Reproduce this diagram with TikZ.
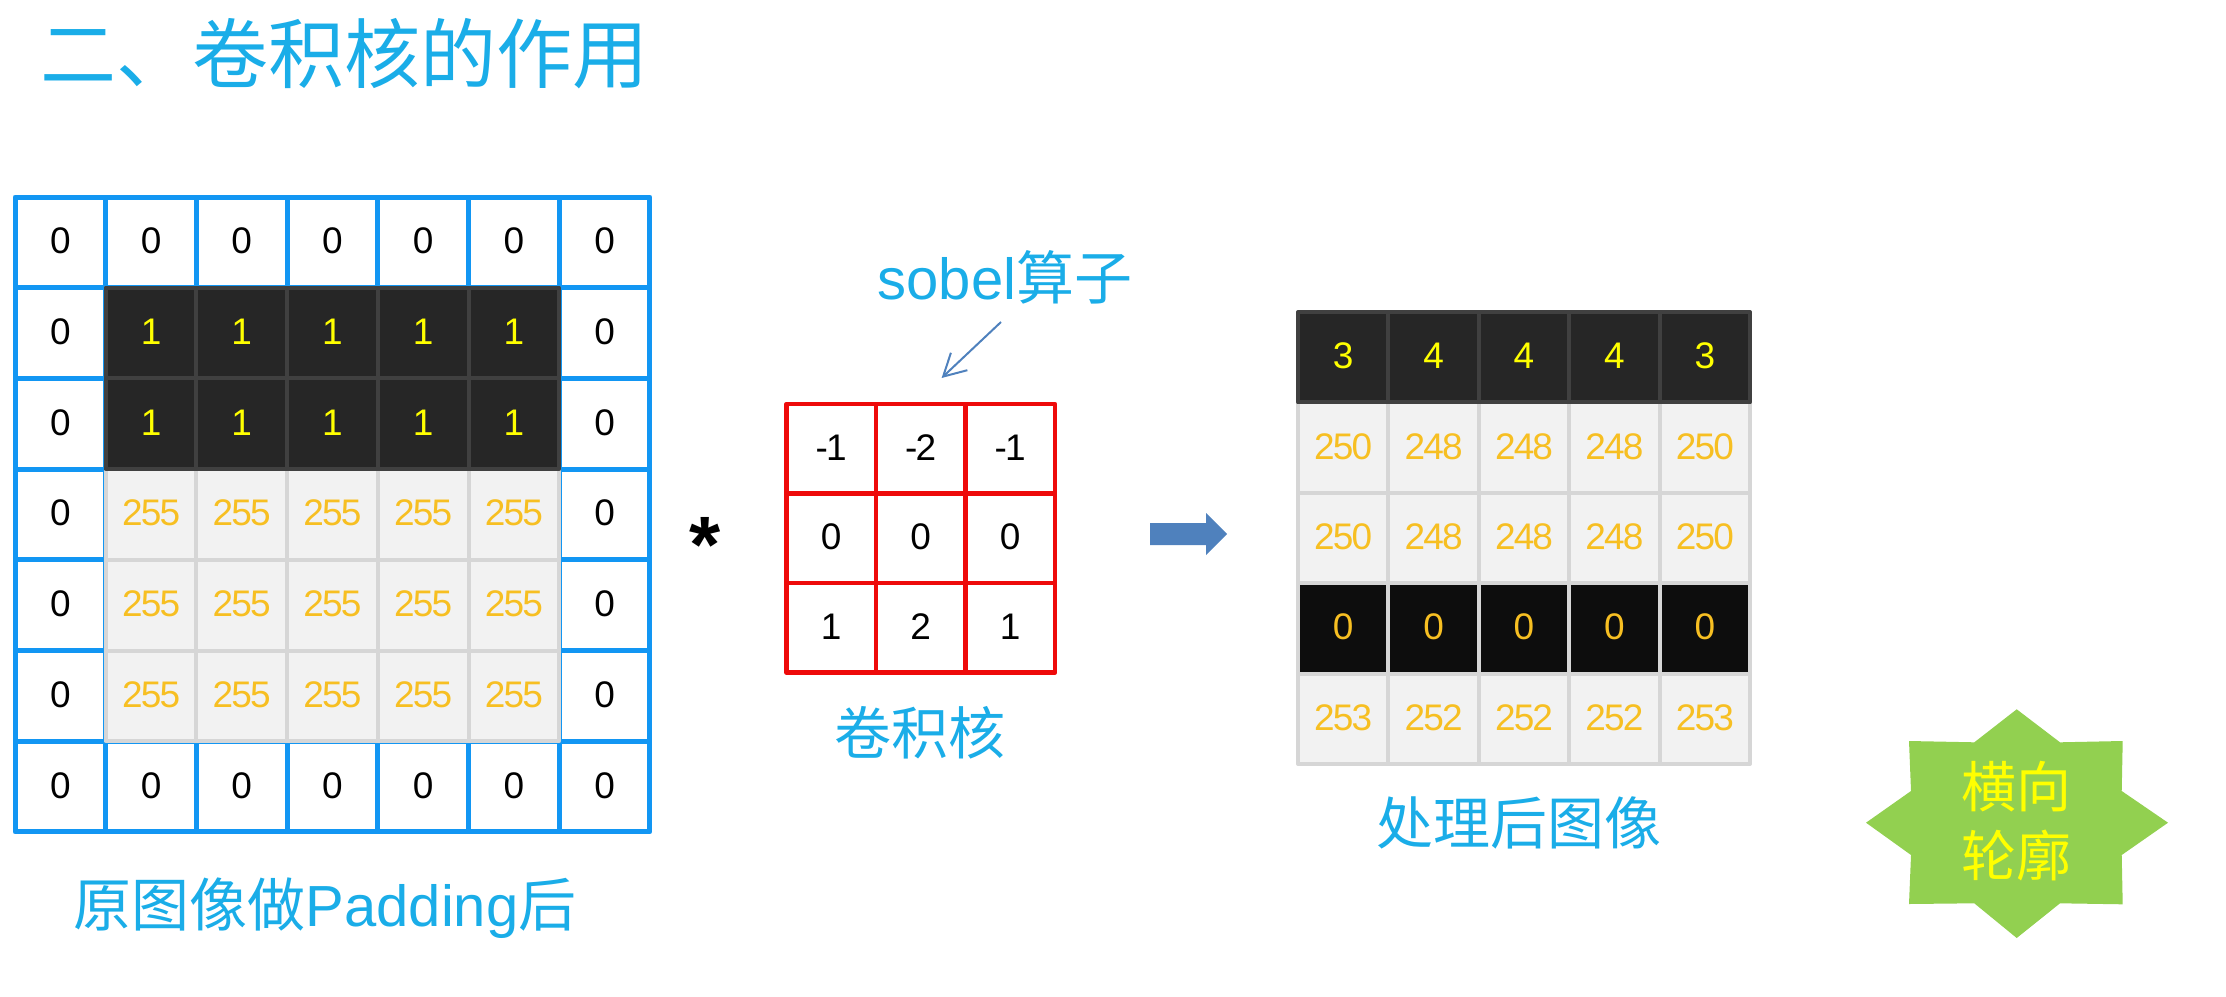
\documentclass[tikz,border=0pt]{standalone}
\usepackage{fontspec}
\usetikzlibrary{arrows.meta}
\setmainfont{Liberation Sans}
\newfontfamily\cjk{Noto Sans CJK SC}
\newfontfamily\numfont[LetterSpace=-5]{Liberation Sans}
\definecolor{titleblue}{HTML}{1AADE8}
\definecolor{gridblue}{HTML}{1296F3}
\definecolor{gridred}{HTML}{EE0A0A}
\definecolor{darkfill}{HTML}{262626}
\definecolor{darkline}{HTML}{404040}
\definecolor{lightfill}{HTML}{F2F2F2}
\definecolor{lightline}{HTML}{D6D6D6}
\definecolor{blackfill}{HTML}{0D0D0D}
\definecolor{valorange}{HTML}{F7BF22}
\definecolor{valyellow}{HTML}{FFFF00}
\definecolor{arrowblue}{HTML}{4F81BD}
\definecolor{stargreen}{HTML}{92D050}
\tikzset{
  cellbase/.style={minimum width=#1,minimum height=#1,inner sep=0pt,line width=4pt,line join=round,
     text height=27pt,text depth=4pt,font=\fontsize{37}{44}\selectfont\numfont},
  bluecell/.style={cellbase=90.7pt,line width=5pt,draw=gridblue,text=black},
  redcell/.style={cellbase=89.5pt,line width=4.5pt,draw=gridred,text=black},
  darkcell/.style={cellbase=#1,draw=darkline,fill=darkfill,text=valyellow},
  lightcell/.style={cellbase=#1,draw=lightline,fill=lightfill,text=valorange},
  blackcell/.style={cellbase=#1,draw=lightline,fill=blackfill,text=valorange},
  caption/.style={text=titleblue,inner sep=0pt,font=\fontsize{57}{66}\selectfont\cjk},
}
\begin{document}
\begin{tikzpicture}[x=1pt,y=-1pt]
\useasboundingbox (0,0) rectangle (2226,996);
% original image with padding: blue ring of zero cells
\foreach \c in {1,...,7}{
  \node[bluecell] (a-1-\c) at ({15+90.7*(\c-0.5)},{197+90.7*0.5}) {0};
  \node[bluecell] (a-7-\c) at ({15+90.7*(\c-0.5)},{197+90.7*6.5}) {0};
}
\foreach \r in {2,...,6}{
  \node[bluecell] (a-\r-1) at ({15+90.7*0.5},{197+90.7*(\r-0.5)}) {0};
  \node[bluecell] (a-\r-7) at ({15+90.7*6.5},{197+90.7*(\r-0.5)}) {0};
}
\foreach \c in {2,...,6}{
  \foreach \r in {4,5,6}{
    \node[lightcell=90.7pt] (a-\r-\c) at ({15+90.7*(\c-0.5)},{197+90.7*(\r-0.5)}) {255};
  }
}
\foreach \c in {2,...,6}{
  \foreach \r in {2,3}{
    \node[darkcell=90.7pt] (a-\r-\c) at ({15+90.7*(\c-0.5)},{197+90.7*(\r-0.5)}) {1};
  }
}
% kernel
\foreach \r/\row in {1/{-1,-2,-1},2/{0,0,0},3/{1,2,1}}{
  \foreach \v [count=\c] in \row {
    \node[redcell] (k-\r-\c) at ({786.5+89.5*(\c-0.5)},{404+89.5*(\r-0.5)}) {\v};
  }
}
% result
\foreach \v [count=\c] in {250,248,248,248,250}{
  \node[lightcell=90.4pt] (r-2-\c) at ({1298+90.4*(\c-0.5)},{312+90.4*1.5}) {\v};
  \node[lightcell=90.4pt] (r-3-\c) at ({1298+90.4*(\c-0.5)},{312+90.4*2.5}) {\v};
}
\foreach \v [count=\c] in {253,252,252,252,253}{
  \node[lightcell=90.4pt] (r-5-\c) at ({1298+90.4*(\c-0.5)},{312+90.4*4.5}) {\v};
}
\foreach \c in {1,...,5}{
  \node[blackcell=90.4pt] (r-4-\c) at ({1298+90.4*(\c-0.5)},{312+90.4*3.5}) {0};
}
\foreach \v [count=\c] in {3,4,4,4,3}{
  \node[darkcell=90.4pt] (r-1-\c) at ({1298+90.4*(\c-0.5)},{312+90.4*0.5}) {\v};
}
% texts
\node[text=titleblue,inner sep=0pt,font=\fontsize{76}{90}\selectfont\cjk] (title) at (344,54) {二、卷积核的作用};
\node[caption,font=\fontsize{58}{66}\selectfont\cjk] (capa) at (325,908) {原图像做{\fontspec{Liberation Sans}Padding}后};
\node[caption] (capk) at (920,733) {卷积核};
\node[caption] (capr) at (1519,823) {处理后图像};
\node[caption,font=\fontsize{58}{66}\selectfont\cjk] (sobel) at (1005,277) {{\fontspec{Liberation Sans}sobel}算子};
\node[inner sep=0pt,font=\fontsize{80}{90}\selectfont\fontspec{Liberation Sans Bold}] (star) at (705,545) {*};
% sobel pointer
\coordinate (ptrfrom) at (1001,322);
\coordinate (ptrto) at (941.6,378);
\draw[arrowblue,line width=2pt,-{Straight Barb[length=22pt,width=24pt]}] (ptrfrom) -- (ptrto);
% block arrow
\fill[arrowblue] (1150,523) -- (1206,523) -- (1206,513) -- (1227,534) -- (1206,555) -- (1206,545) -- (1150,545) -- cycle;
% eight-point badge
\fill[stargreen] (2016.7,709.3) -- (2060,742.3) -- (2122.7,741) -- (2121.7,791) -- (2168,822.7) -- (2121.7,855) -- (2122.7,904.3) -- (2060,903.3) -- (2016.7,938) -- (1974.3,903.3) -- (1909,904) -- (1911,855) -- (1866,822.7) -- (1911,791) -- (1909,741) -- (1974.3,742.3) -- cycle;
\node[text=valyellow,inner sep=0pt,align=center,font=\fontsize{55}{69}\selectfont\cjk] (badge) at (2016.7,821) {横向\\轮廓};
\end{tikzpicture}
\end{document}
